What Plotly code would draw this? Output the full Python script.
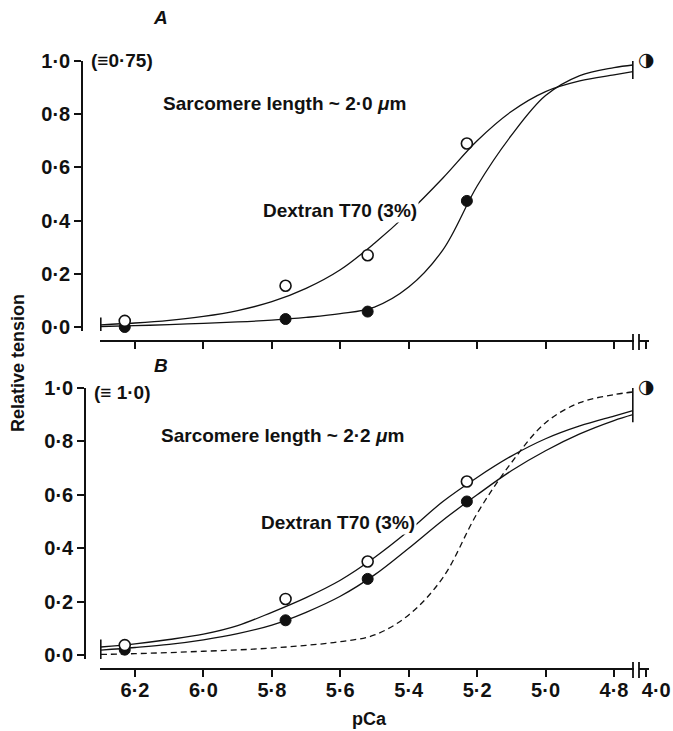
import plotly.graph_objects as go

W, H = 673, 731

# Fitted tension-pCa curves, sampled along pCa
pca_curve = [6.30, 6.20, 6.10, 6.00, 5.90, 5.80, 5.70, 5.60, 5.50,
             5.40, 5.30, 5.20, 5.10, 5.00, 4.90, 4.80, 4.745]
# Panel A (sarcomere length ~2.0 um)
a_ctrl_curve = [0.002, 0.005, 0.009, 0.014, 0.019, 0.026, 0.036, 0.050, 0.075,
                0.150, 0.290, 0.530, 0.720, 0.870, 0.945, 0.975, 0.985]
a_dex_curve = [0.008, 0.015, 0.025, 0.040, 0.062, 0.095, 0.145, 0.215, 0.315,
               0.430, 0.560, 0.700, 0.810, 0.885, 0.925, 0.948, 0.960]
# Panel B (sarcomere length ~2.2 um)
b_ctrl_curve = [0.018, 0.028, 0.040, 0.057, 0.080, 0.112, 0.160, 0.220, 0.300,
                0.400, 0.505, 0.600, 0.690, 0.765, 0.828, 0.878, 0.900]
b_dex_curve = [0.030, 0.042, 0.058, 0.078, 0.110, 0.160, 0.215, 0.280, 0.365,
               0.465, 0.575, 0.665, 0.745, 0.810, 0.858, 0.895, 0.915]

# Measured points
pca_pts = [6.23, 5.76, 5.52, 5.23]
a_ctrl_pts = [0.0, 0.03, 0.058, 0.474]
a_dex_pts = [0.023, 0.155, 0.27, 0.69]
b_ctrl_pts = [0.02, 0.13, 0.285, 0.575]
b_dex_pts = [0.037, 0.21, 0.35, 0.65]

# Maximal activation
pca_max = [4.0]
tension_max = [1.0]

xtick_vals = [6.2, 6.0, 5.8, 5.6, 5.4, 5.2, 5.0, 4.8]
xtick_text = ["6·2", "6·0", "5·8", "5·6", "5·4", "5·2", "5·0", "4·8"]
ytick_vals = [0.0, 0.2, 0.4, 0.6, 0.8, 1.0]
ytick_text = ["0·0", "0·2", "0·4", "0·6", "0·8", "1·0"]

FONT = "Liberation Sans, Arial, sans-serif"
BLACK = "#111111"


def xp(px):
    return px / W


def yp(py):
    return 1 - py / H


fig = go.Figure()


def add_panel(xa, xb, ya, curves_solid, curve_dashed, pts_open, pts_filled):
    for cy in curves_solid:
        fig.add_trace(go.Scatter(x=pca_curve, y=cy, mode="lines", xaxis=xa, yaxis=ya,
                                 line=dict(color=BLACK, width=1.3, shape="spline"),
                                 hoverinfo="skip", showlegend=False))
    if curve_dashed is not None:
        fig.add_trace(go.Scatter(x=pca_curve, y=curve_dashed, mode="lines", xaxis=xa, yaxis=ya,
                                 line=dict(color=BLACK, width=1.3, shape="spline", dash="6px,4px"),
                                 hoverinfo="skip", showlegend=False))
    every = list(curves_solid) + ([curve_dashed] if curve_dashed is not None else [])
    # end bars of the fitted curves
    for idx in (0, -1):
        vals = [c[idx] for c in every]
        fig.add_trace(go.Scatter(x=[pca_curve[idx]] * 2,
                                 y=[min(vals) - 0.028, max(vals) + 0.028],
                                 mode="lines", xaxis=xa, yaxis=ya,
                                 line=dict(color=BLACK, width=1.6),
                                 hoverinfo="skip", showlegend=False))
    fig.add_trace(go.Scatter(x=pca_pts, y=pts_filled, mode="markers", xaxis=xa, yaxis=ya,
                             marker=dict(symbol="circle", size=11, color=BLACK,
                                         line=dict(color=BLACK, width=1)),
                             cliponaxis=False, showlegend=False))
    fig.add_trace(go.Scatter(x=pca_pts, y=pts_open, mode="markers", xaxis=xa, yaxis=ya,
                             marker=dict(symbol="circle", size=11, color="white",
                                         line=dict(color=BLACK, width=1.6)),
                             cliponaxis=False, showlegend=False))
    fig.add_trace(go.Scatter(x=pca_max, y=tension_max, mode="text", xaxis=xb, yaxis=ya,
                             text=["◑"], textposition="middle center",
                             textfont=dict(family="DejaVu Sans", size=19, color=BLACK),
                             cliponaxis=False, showlegend=False))


add_panel("x", "x2", "y", [a_ctrl_curve, a_dex_curve], None, a_dex_pts, a_ctrl_pts)
add_panel("x3", "x4", "y2", [b_ctrl_curve, b_dex_curve], a_ctrl_curve, b_dex_pts, b_ctrl_pts)

tickfont = dict(family=FONT, size=20, color=BLACK, weight="bold")
main_range = [6.2 + 35 / 342, 4.8 - 20 / 342]
brk_range = [4.0 + 8 / 342, 4.0 - 3 / 342]

common_x = dict(showgrid=False, zeroline=False, showline=True, linecolor=BLACK, linewidth=1.6,
                ticks="outside", ticklen=7, tickwidth=1.6, tickcolor=BLACK,
                tickfont=tickfont, anchor="free", automargin=False, ticklabelstandoff=-4)
common_y = dict(showgrid=False, zeroline=False, showline=True, linecolor=BLACK, linewidth=1.6,
                ticks="outside", ticklen=7, tickwidth=1.6, tickcolor=BLACK,
                tickfont=tickfont, anchor="free", automargin=False,
                range=[-0.015, 1.0], tickvals=ytick_vals, ticktext=ytick_text)

fig.update_layout(
    width=W, height=H, autosize=False,
    margin=dict(l=0, r=0, t=0, b=0),
    paper_bgcolor="white", plot_bgcolor="white",
    xaxis=dict(common_x, domain=[xp(100), xp(634)], range=main_range, position=yp(341),
               tickvals=xtick_vals, showticklabels=False),
    xaxis2=dict(common_x, domain=[xp(639), xp(649)], range=brk_range, position=yp(341),
                tickvals=pca_max, showticklabels=False),
    xaxis3=dict(common_x, domain=[xp(100), xp(634)], range=main_range, position=yp(669),
                tickvals=xtick_vals, ticktext=xtick_text),
    xaxis4=dict(common_x, domain=[xp(639), xp(649)], range=brk_range, position=yp(669),
                tickvals=pca_max, ticktext=["4·0"], ticklabelshift=-10),
    yaxis=dict(common_y, domain=[yp(331), yp(61)], position=xp(82)),
    yaxis2=dict(common_y, domain=[yp(659), yp(388)], position=xp(85)),
)

# axis break marks
for yc in (341, 669):
    for px in (633, 639):
        fig.add_shape(type="line", xref="paper", yref="paper",
                      x0=xp(px), x1=xp(px), y0=yp(yc - 7), y1=yp(yc + 9),
                      line=dict(color=BLACK, width=1.8))

txt = dict(family=FONT, size=19, color=BLACK, weight="bold")


def note(text, x, y, xanchor="left", font=txt, **kw):
    fig.add_annotation(text=text, x=xp(x), y=yp(y), xref="paper", yref="paper",
                       xanchor=xanchor, yanchor="middle", showarrow=False, font=font, **kw)


note("<i>A</i>", 160, 17, xanchor="center")
note("<i>B</i>", 161, 365, xanchor="center")
note("(≡0·75)", 89, 61)
note("(≡ 1·0)", 92, 392)
note("Sarcomere length ~ 2·0 <i>μ</i>m", 161, 103)
note("Sarcomere length ~ 2·2 <i>μ</i>m", 159, 435)
note("Dextran T70 (3%)", 261, 210, bgcolor="white", borderpad=1)
note("Dextran T70 (3%)", 259, 522, bgcolor="white", borderpad=1)
note("pCa", 369, 719, xanchor="center", font=dict(txt, size=18))
fig.add_annotation(text="Relative tension", x=xp(18), y=yp(363), xref="paper", yref="paper",
                   xanchor="center", yanchor="middle", showarrow=False, textangle=-90,
                   font=dict(txt, size=18))

fig.write_html("out.html")
